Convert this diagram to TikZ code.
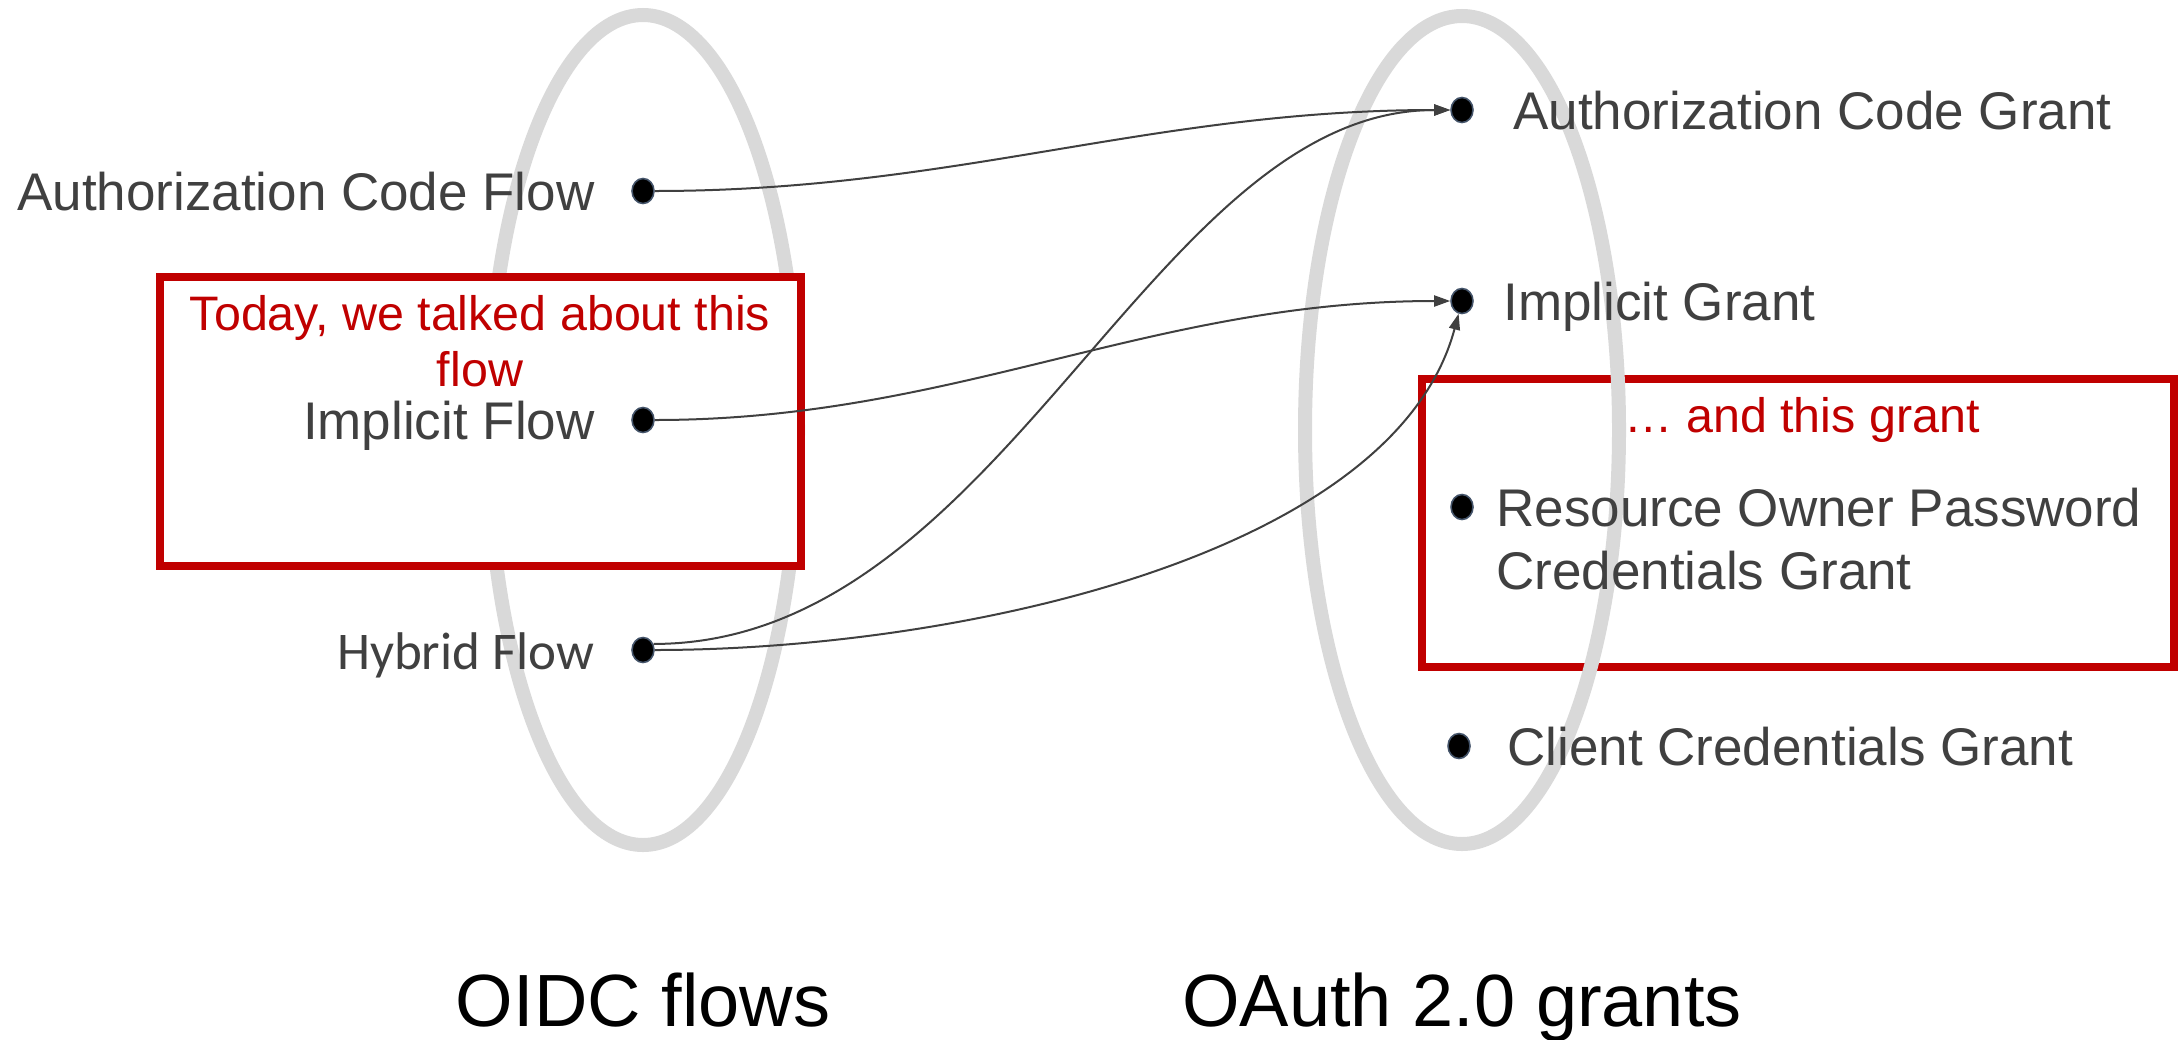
\documentclass[tikz,border=0pt]{standalone}
\usepackage{fontspec}
\setmainfont{Liberation Sans}
\newfontfamily\carlito{Carlito}
\usetikzlibrary{arrows.meta,shapes.geometric}
\definecolor{ringgray}{HTML}{D9D9D9}
\definecolor{txtgray}{HTML}{404040}
\definecolor{boxred}{HTML}{C00000}
\definecolor{dotedge}{HTML}{44546A}
\tikzset{
 ring/.style={draw=ringgray, line width=7pt},
 dot/.style={ellipse, fill=black, draw=dotedge, line width=0.8pt, minimum width=11pt, minimum height=12.5pt, inner sep=0pt},
 lbl/.style={text=txtgray, font=\fontsize{26.5}{31.5}\selectfont, inner sep=0pt},
 redbox/.style={draw=boxred, line width=4pt, inner sep=0pt},
 redtxt/.style={text=boxred, font=\fontsize{24.2}{28}\selectfont, inner sep=0pt, align=center},
 titletxt/.style={text=black, font=\fontsize{37}{44}\selectfont, inner sep=0pt},
 conn/.style={draw=txtgray, line width=1pt, -{Triangle[length=8pt,width=5.5pt]}},
}
\begin{document}
\begin{tikzpicture}[x=0.5pt,y=-0.5pt]
\useasboundingbox (0,0) rectangle (2182,1039);
\fill[white] (0,0) rectangle (2182,1039);
% left ellipse
\draw[ring] (643,430) ellipse [x radius=155, y radius=415];
% left red box
\node[redbox, fill=white, minimum width=320.5pt, minimum height=144.5pt] (lbox) at (480.5,421.5) {};
\node[redtxt, anchor=base] (ltxt) at (480,386) {Today, we talked about this\\flow};
% right red box
\node[redbox, minimum width=376pt, minimum height=144pt] (rbox) at (1798,523) {};
\node[redtxt, anchor=base] (rtxt) at (1802,432) {\char"2026\ and this grant};
% right ellipse
\draw[ring] (1462,430) ellipse [x radius=157, y radius=414];
% left labels
\node[lbl, anchor=base east] (tacf) at (595,210) {Authorization Code Flow};
\node[lbl, anchor=base east] (tif) at (595,439) {Implicit Flow};
\node[lbl, font=\carlito\fontsize{26.5}{31.5}\selectfont, anchor=base east] (thf) at (595,669) {Hybrid Flow};
% right labels
\node[lbl, anchor=base west] (tacg) at (1513,129) {Authorization Code Grant};
\node[lbl, anchor=base west] (tig) at (1503,320) {Implicit Grant};
\node[lbl, anchor=base west, align=left] (trop) at (1496,589) {Resource Owner Password\\Credentials Grant};
\node[lbl, anchor=base west] (tccg) at (1507,765) {Client Credentials Grant};
% dots
\node[dot] (dacf) at (643,191) {};
\node[dot] (dif) at (643,420) {};
\node[dot] (dhf) at (643,650) {};
\node[dot] (dacg) at (1462,110) {};
\node[dot] (dig) at (1462,301) {};
\node[dot] (drop) at (1462,507) {};
\node[dot] (dccg) at (1459,746) {};
% titles
\node[titletxt, anchor=base] (toidc) at (643,1026) {OIDC flows};
\node[titletxt, anchor=base] (toauth) at (1462,1026) {OAuth 2.0 grants};
% connectors
\draw[conn] (dacf.east) .. controls +(300,0) and +(-300,0) .. (dacg.west);
\draw[conn] (dif.east) .. controls +(300,0) and +(-300,0) .. (dig.west);
\draw[conn] (dhf.30) .. controls +(350,0) and +(-300,0) .. (dacg.west);
\draw[conn] (dhf.east) .. controls +(300,0) and +(-65,243) .. (dig.-105);
\end{tikzpicture}
\end{document}
